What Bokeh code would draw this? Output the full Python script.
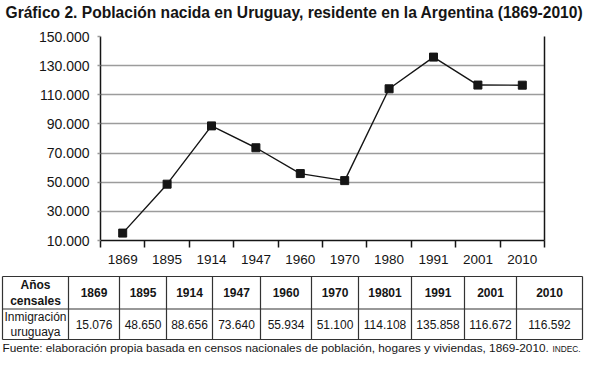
from bokeh.plotting import figure
from bokeh.models import Range1d, FixedTicker, LinearAxis
from bokeh.layouts import column
from bokeh.core.properties import value
from bokeh.embed import file_html
from bokeh.resources import INLINE

# ---------------- data ----------------
title_text = "Gráfico 2. Población nacida en Uruguay, residente en la Argentina (1869-2010)"
axis_years = ["1869", "1895", "1914", "1947", "1960", "1970", "1980", "1991", "2001", "2010"]
table_years = ["1869", "1895", "1914", "1947", "1960", "1970", "19801", "1991", "2001", "2010"]
population = [15076, 48650, 88656, 73640, 55934, 51100, 114108, 135858, 116672, 116592]
y_ticks = [10000, 30000, 50000, 70000, 90000, 110000, 130000, 150000]
y_tick_labels = ["10.000", "30.000", "50.000", "70.000", "90.000", "110.000", "130.000", "150.000"]
row_header_years = "Años\ncensales"
row_header_values = "Inmigración\nuruguaya"
footer_text = "Fuente: elaboración propia basada en censos nacionales de población, hogares y viviendas, 1869-2010."
footer_org = "INDEC."

FONT = "Liberation Sans"
W = 584
INK = "#151515"


def blank_fig(height):
    f = figure(width=W, height=height, x_range=Range1d(0, W), y_range=Range1d(height, 0),
               output_backend="svg", toolbar_location=None, x_axis_type=None, y_axis_type=None,
               min_border_left=0, min_border_right=0, min_border_top=0, min_border_bottom=0)
    f.grid.visible = False
    f.outline_line_color = None
    f.background_fill_color = "white"
    f.border_fill_color = "white"
    f.frame_align = False
    return f


# ---------------- title ----------------
HH = 26
h = blank_fig(HH)
h.text(x=[5], y=[12], text=[title_text], text_font=value(FONT), text_font_size="15.6px",
       text_font_style="bold", text_color=INK, text_align="left", text_baseline="middle")

# ---------------- chart ----------------
n = len(axis_years)
xs = [i + 0.5 for i in range(n)]

p = figure(width=W, height=244, x_range=Range1d(0, n), y_range=Range1d(y_ticks[0], y_ticks[-1]),
           output_backend="svg", toolbar_location=None,
           min_border_left=100, min_border_right=40, min_border_top=10, min_border_bottom=30)
p.outline_line_color = None
p.background_fill_color = "white"
p.border_fill_color = "white"
p.frame_align = False

# x axis: labels at category centres, ticks at boundaries
xax = p.xaxis[0]
xax.ticker = FixedTicker(ticks=xs, minor_ticks=list(range(n + 1)))
xax.major_label_overrides = {x: lab for x, lab in zip(xs, axis_years)}
xax.major_tick_out = 0
xax.major_tick_in = 0
xax.minor_tick_out = 7
xax.minor_tick_in = 0
xax.minor_tick_line_color = INK
xax.minor_tick_line_width = 1.5
xax.axis_line_color = INK
xax.axis_line_width = 1.5
xax.major_label_standoff = 7
xax.major_label_text_font = FONT
xax.major_label_text_font_size = "13.5px"
xax.major_label_text_color = INK

yax = p.yaxis[0]
yax.ticker = FixedTicker(ticks=y_ticks)
yax.major_label_overrides = dict(zip(y_ticks, y_tick_labels))
yax.major_tick_out = 3
yax.major_tick_in = 0
yax.major_tick_line_color = "#999999"
yax.major_tick_line_width = 1.5
yax.minor_tick_out = 0
yax.minor_tick_in = 0
yax.axis_line_color = INK
yax.axis_line_width = 1.5
yax.major_label_standoff = 8
yax.major_label_text_font = FONT
yax.major_label_text_font_size = "14px"
yax.major_label_text_color = INK

p.xgrid.visible = False
p.ygrid[0].ticker = FixedTicker(ticks=y_ticks)
p.ygrid.grid_line_color = "#9c9c9c"
p.ygrid.grid_line_width = 1.5

right_axis = LinearAxis(ticker=FixedTicker(ticks=[]), axis_line_color=INK, axis_line_width=1.5,
                        major_tick_out=0, major_tick_in=0, minor_tick_out=0, minor_tick_in=0)
p.add_layout(right_axis, "right")

p.line(xs, population, line_color=INK, line_width=1.4)
p.scatter(xs, population, marker="square", size=8, fill_color=INK, line_color=INK)

# ---------------- table ----------------
TH = 84
t = blank_fig(TH)

col_edges = [2, 68, 119, 166, 212, 260, 311, 358, 411, 464, 516, 582]
row_edges = [6, 38.5, 69]
hx0 = [col_edges[0]] * len(row_edges)
hx1 = [col_edges[-1]] * len(row_edges)
t.segment(x0=hx0, y0=row_edges, x1=hx1, y1=row_edges, line_color="#333333", line_width=1.2)
t.segment(x0=col_edges, y0=[row_edges[0]] * len(col_edges), x1=col_edges,
          y1=[row_edges[-1]] * len(col_edges), line_color="#333333", line_width=1.2)

cx = [(a + b) / 2 for a, b in zip(col_edges[:-1], col_edges[1:])]
r1 = (row_edges[0] + row_edges[1]) / 2
r2 = (row_edges[1] + row_edges[2]) / 2
value_labels = [f"{v:,}".replace(",", ".") for v in population]

t.text(x=cx, y=[r1] * len(cx), text=[row_header_years] + table_years,
       text_font=value(FONT), text_font_size="12px", text_font_style="bold", text_color=INK,
       text_align="center", text_baseline="middle", text_line_height=1.15)
t.text(x=cx, y=[r2] * len(cx), text=[row_header_values] + value_labels,
       text_font=value(FONT), text_font_size="12px", text_color=INK,
       text_align="center", text_baseline="middle", text_line_height=1.05)

t.text(x=[2], y=[77.5], text=[footer_text], text_font=value(FONT), text_font_size="11.8px",
       text_color=INK, text_align="left", text_baseline="middle")
t.text(x=[580], y=[78], text=[footer_org], text_font=value(FONT), text_font_size="8.3px",
       text_color=INK, text_align="right", text_baseline="middle")

layout = column(h, p, t)
open("out.html", "w").write(file_html(layout, INLINE))
